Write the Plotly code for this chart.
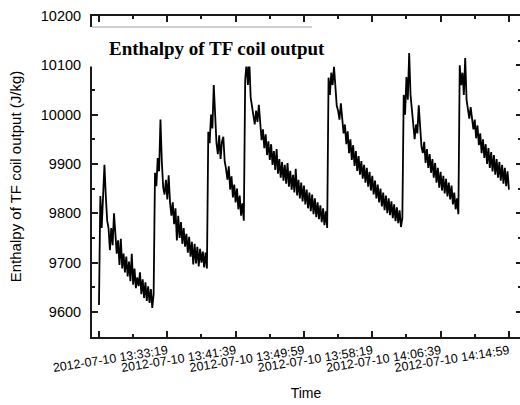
import pandas as pd
import plotly.graph_objects as go

# ---- data ----
start_time = "2012-07-10 13:24:59"
sample_seconds = 10

enthalpy = [
    9614, 9835, 9770, 9825, 9898, 9835, 9785, 9770, 9725, 9770,
    9735, 9800, 9745, 9718, 9745, 9695, 9748, 9688, 9718, 9680,
    9712, 9672, 9702, 9662, 9718, 9655, 9688, 9648, 9670, 9652,
    9680, 9636, 9666, 9628, 9660, 9622, 9652, 9618, 9646, 9608,
    9636,
    9882, 9855, 9912, 9885, 9990, 9905, 9852, 9838, 9868, 9828,
    9877, 9822, 9795, 9822, 9778, 9810, 9745, 9795, 9750, 9782,
    9738, 9770, 9732, 9758, 9720, 9752, 9712, 9742, 9696, 9738,
    9698, 9732, 9692, 9728, 9700, 9722, 9690, 9720, 9688,
    9965, 9942, 10000, 9972, 10060, 10000, 9942, 9920, 9958, 9910,
    9945, 9955, 9905, 9890, 9868, 9895, 9848, 9875, 9832, 9858,
    9822, 9850, 9808, 9836, 9795, 9820, 9785,
    10070, 10105, 10060, 10110, 10035, 10018, 10000, 9980, 10008, 9985,
    10020, 9982, 9948, 9970, 9932, 9960, 9918, 9946, 9908, 9940,
    9898, 9926, 9888, 9930, 9880, 9910, 9872, 9904, 9866, 9898,
    9860, 9902, 9854, 9886, 9848, 9878, 9842, 9890, 9836, 9868,
    9830, 9862, 9824, 9856, 9818, 9848, 9810, 9842, 9804, 9838,
    9798, 9830, 9792, 9822, 9788, 9816, 9782, 9810, 9776, 9804,
    9770,
    10075, 10040, 10085, 10060, 10097, 10050, 10018, 10008, 9990, 10023,
    9985, 9962, 9980, 9940, 9966, 9922, 9950, 9908, 9938, 9896,
    9926, 9886, 9916, 9878, 9906, 9870, 9898, 9862, 9892, 9854,
    9884, 9846, 9876, 9838, 9866, 9830, 9858, 9822, 9850, 9814,
    9842, 9806, 9836, 9800, 9830, 9796, 9824, 9790, 9818, 9784,
    9812, 9780, 9806, 9772,
    9790, 10040, 10000, 10076, 10030, 10125, 10040, 10008, 9985, 9950,
    9980, 9962, 10019, 9972, 9935, 9922, 9945, 9902, 9930, 9892,
    9920, 9882, 9910, 9872, 9902, 9862, 9892, 9852, 9884, 9846,
    9876, 9840, 9870, 9834, 9862, 9828, 9856, 9818, 9842, 9808,
    9830, 9798,
    10100, 10060, 10085, 10040, 10115, 10030, 10008, 9992, 10015, 9985,
    9970, 9990, 9952, 9978, 9938, 9962, 9922, 9950, 9912, 9940,
    9900, 9932, 9892, 9924, 9885, 9918, 9878, 9910, 9872, 9904,
    9866, 9898, 9860, 9892, 9855, 9885, 9848,
]

times = pd.date_range(start_time, periods=len(enthalpy), freq=f"{sample_seconds}s")

x_tick_vals = ["2012-07-10 13:24:59", "2012-07-10 13:33:19", "2012-07-10 13:41:39",
               "2012-07-10 13:49:59", "2012-07-10 13:58:19", "2012-07-10 14:06:39",
               "2012-07-10 14:14:59"]
x_tick_text = ["", "2012-07-10 13:33:19", "2012-07-10 13:41:39", "2012-07-10 13:49:59",
               "2012-07-10 13:58:19", "2012-07-10 14:06:39", "2012-07-10 14:14:59"]
x_minor_vals = ["2012-07-10 13:29:09", "2012-07-10 13:37:29", "2012-07-10 13:45:49",
                "2012-07-10 13:54:09", "2012-07-10 14:02:29", "2012-07-10 14:10:49"]
x_range = ["2012-07-10 13:24:08", "2012-07-10 14:16:20"]

y_tick_vals = [9600, 9700, 9800, 9900, 10000, 10100, 10200]
y_tick_text = ["9600", "9700", "9800", "9900", "10000", "10100", "10200"]
y_range = [9549, 10200]

title_text = "Enthalpy of TF coil output"
x_title = "Time"
y_title = "Enthalpy of TF coil output (J/kg)"

# ---- figure ----
AX = "#1a1a1a"
SANS = "Liberation Sans, Arial, sans-serif"

fig = go.Figure()
fig.add_trace(go.Scatter(x=times, y=enthalpy, mode="lines",
                         line=dict(color="black", width=1.8),
                         showlegend=False, hoverinfo="skip"))
fig.add_trace(go.Scatter(x=[times[0]], y=[None], yaxis="y2", mode="lines",
                         showlegend=False, hoverinfo="skip"))

fig.update_layout(
    width=520, height=405,
    margin=dict(l=92, r=0, t=16, b=68),
    paper_bgcolor="white", plot_bgcolor="white",
    font=dict(family=SANS, color="black"),
    xaxis=dict(
        type="date", range=x_range,
        tickmode="array", tickvals=x_tick_vals, ticktext=x_tick_text,
        tickangle=-9, tickfont=dict(size=12.5, family=SANS, color="black"),
        ticks="inside", ticklen=6, tickwidth=1.5, tickcolor=AX,
        minor=dict(tickmode="array", tickvals=x_minor_vals, ticks="inside",
                   ticklen=3, tickwidth=1.5, tickcolor=AX),
        showline=True, linewidth=2, linecolor=AX, mirror="ticks",
        showgrid=False, zeroline=False,
        title=dict(text=x_title, font=dict(size=14, family=SANS, color="black"), standoff=14),
    ),
    yaxis=dict(
        range=y_range, tickmode="array", tickvals=y_tick_vals, ticktext=y_tick_text,
        tickfont=dict(size=14.5, family=SANS, color="black"),
        ticks="inside", ticklen=6, tickwidth=1.5, tickcolor=AX,
        minor=dict(dtick=50, ticks="inside", ticklen=3, tickwidth=1.5, tickcolor=AX),
        showline=True, linewidth=2, linecolor=AX, mirror=False,
        showgrid=False, zeroline=False, ticklabelstandoff=6,
        title=dict(text=y_title, font=dict(size=15, family=SANS, color="black"), standoff=16),
    ),
    yaxis2=dict(
        overlaying="y", side="right", anchor="x", range=y_range,
        tickmode="array", tickvals=y_tick_vals, showticklabels=False,
        ticks="inside", ticklen=4, tickwidth=1.5, tickcolor=AX,
        minor=dict(dtick=50, ticks="inside", ticklen=2, tickwidth=1.5, tickcolor=AX),
        showline=False, showgrid=False, zeroline=False,
    ),
)

# legend-like white box that hides part of the curve and the left spine
fig.add_shape(type="rect", xref="paper", yref="paper",
              x0=-0.008, x1=0.514, y0=0.8427, y1=0.9657,
              fillcolor="white", line=dict(width=0), layer="above")
fig.add_shape(type="line", xref="paper", yref="paper",
              x0=0.0, x1=0.514, y0=0.9657, y1=0.9657,
              line=dict(color="#a0a0a0", width=1), layer="above")
fig.add_annotation(text=f"<b>{title_text}</b>", xref="paper", yref="paper",
                   x=0.293, y=0.900, xanchor="center", yanchor="middle",
                   showarrow=False,
                   font=dict(family="Liberation Serif, Times New Roman, serif", size=19, color="black"))

fig.write_html("out.html")
